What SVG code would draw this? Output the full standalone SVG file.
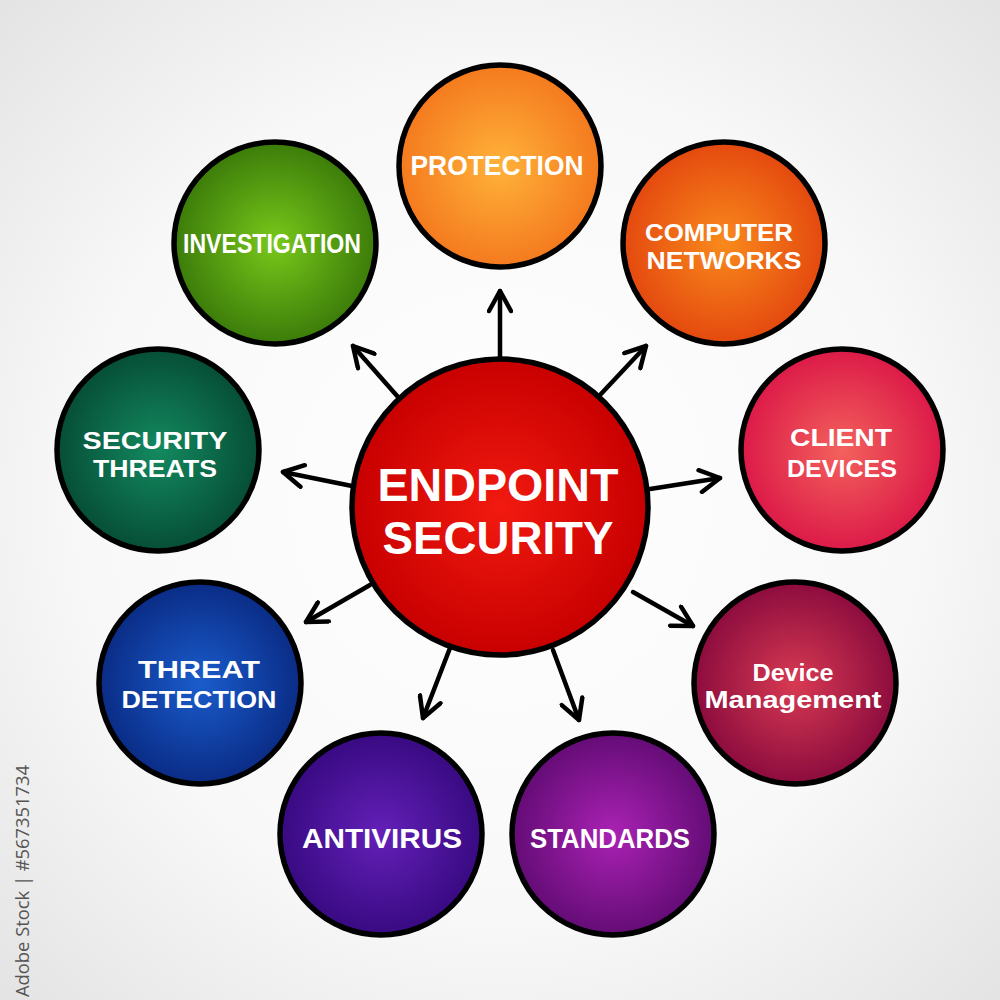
<svg xmlns="http://www.w3.org/2000/svg" width="1000" height="1000" viewBox="0 0 1000 1000">
<defs>
<radialGradient id="bg" cx="50%" cy="50%" r="70%"><stop offset="0" stop-color="#ffffff"/><stop offset="0.6" stop-color="#f8f8f8"/><stop offset="1" stop-color="#e4e4e4"/></radialGradient>
<radialGradient id="gC"><stop offset="0" stop-color="#f21a10"/><stop offset="1" stop-color="#c80000"/></radialGradient>
<radialGradient id="g1"><stop offset="0" stop-color="#ffb23a"/><stop offset="1" stop-color="#f47a1e"/></radialGradient>
<radialGradient id="g2"><stop offset="0" stop-color="#f98a1c"/><stop offset="1" stop-color="#e4490f"/></radialGradient>
<radialGradient id="g3"><stop offset="0" stop-color="#f3625c"/><stop offset="1" stop-color="#dc1a48"/></radialGradient>
<radialGradient id="g4"><stop offset="0" stop-color="#d83a52"/><stop offset="1" stop-color="#8c0c3e"/></radialGradient>
<radialGradient id="g5"><stop offset="0" stop-color="#aa22b4"/><stop offset="1" stop-color="#640c76"/></radialGradient>
<radialGradient id="g6"><stop offset="0" stop-color="#6420b8"/><stop offset="1" stop-color="#380a82"/></radialGradient>
<radialGradient id="g7"><stop offset="0" stop-color="#1a5ccc"/><stop offset="1" stop-color="#0a2c86"/></radialGradient>
<radialGradient id="g8"><stop offset="0" stop-color="#138a60"/><stop offset="1" stop-color="#064e36"/></radialGradient>
<radialGradient id="g9"><stop offset="0" stop-color="#78c81a"/><stop offset="1" stop-color="#3c7c0a"/></radialGradient>
<marker id="ah" viewBox="0 0 26 26" refX="23" refY="13" markerWidth="26" markerHeight="26" markerUnits="userSpaceOnUse" orient="auto">
<path d="M3,2 L23,13 L3,24" fill="none" stroke="#000" stroke-width="4.5" stroke-linecap="round" stroke-linejoin="round"/>
</marker>
<style>
.c{stroke:#000;stroke-width:5.5}
.t{font-family:"Liberation Sans",Arial,sans-serif;font-weight:bold;fill:#fff;text-anchor:middle;font-size:28px}
.t2{font-size:24px}
.tc{font-size:46px}
.a{stroke:#000;stroke-width:4.5;fill:none;stroke-linecap:round;marker-end:url(#ah)}
.s{font-family:"Open Sans","Noto Sans",sans-serif;font-size:18px;fill:#555}
</style>
</defs>
<rect width="1000" height="1000" fill="url(#bg)"/>
<g id="connectors">
<line class="a" x1="500" y1="358" x2="500" y2="291"/>
<line class="a" x1="600" y1="395" x2="646" y2="346"/>
<line class="a" x1="398" y1="397" x2="353" y2="346"/>
<line class="a" x1="352" y1="486" x2="283" y2="472"/>
<line class="a" x1="650" y1="489" x2="720" y2="478"/>
<line class="a" x1="370" y1="585" x2="306" y2="622"/>
<line class="a" x1="633" y1="592" x2="693" y2="626"/>
<line class="a" x1="450" y1="648" x2="423" y2="718"/>
<line class="a" x1="553" y1="650" x2="579" y2="720"/>
</g>
<g id="center">
<circle class="c" cx="500" cy="507" r="148" fill="url(#gC)"/>
<text class="t tc" x="498" y="501" textLength="241" lengthAdjust="spacingAndGlyphs">ENDPOINT</text>
<text class="t tc" x="498" y="554" textLength="231" lengthAdjust="spacingAndGlyphs">SECURITY</text>
</g>
<g id="protection">
<circle class="c" cx="500" cy="166" r="101" fill="url(#g1)"/>
<text class="t" x="497" y="175" textLength="173" lengthAdjust="spacingAndGlyphs">PROTECTION</text>
</g>
<g id="computer-networks">
<circle class="c" cx="724" cy="243" r="101" fill="url(#g2)"/>
<text class="t t2" x="719" y="241" textLength="148" lengthAdjust="spacingAndGlyphs">COMPUTER</text>
<text class="t t2" x="724" y="269" textLength="155" lengthAdjust="spacingAndGlyphs">NETWORKS</text>
</g>
<g id="client-devices">
<circle class="c" cx="842" cy="450" r="101" fill="url(#g3)"/>
<text class="t t2" x="841" y="446" textLength="102" lengthAdjust="spacingAndGlyphs">CLIENT</text>
<text class="t t2" x="842" y="477" textLength="110" lengthAdjust="spacingAndGlyphs">DEVICES</text>
</g>
<g id="device-management">
<circle class="c" cx="795" cy="683" r="101" fill="url(#g4)"/>
<text class="t t2" x="793" y="681" textLength="81" lengthAdjust="spacingAndGlyphs">Device</text>
<text class="t t2" x="793" y="708" textLength="177" lengthAdjust="spacingAndGlyphs">Management</text>
</g>
<g id="standards">
<circle class="c" cx="613" cy="834" r="101" fill="url(#g5)"/>
<text class="t" x="610" y="848" textLength="160" lengthAdjust="spacingAndGlyphs">STANDARDS</text>
</g>
<g id="antivirus">
<circle class="c" cx="381" cy="834" r="101" fill="url(#g6)"/>
<text class="t" x="382" y="848" textLength="160" lengthAdjust="spacingAndGlyphs">ANTIVIRUS</text>
</g>
<g id="threat-detection">
<circle class="c" cx="200" cy="683" r="101" fill="url(#g7)"/>
<text class="t t2" x="199" y="678" textLength="122" lengthAdjust="spacingAndGlyphs">THREAT</text>
<text class="t t2" x="199" y="708" textLength="155" lengthAdjust="spacingAndGlyphs">DETECTION</text>
</g>
<g id="security-threats">
<circle class="c" cx="158" cy="450" r="101" fill="url(#g8)"/>
<text class="t t2" x="155" y="449" textLength="145" lengthAdjust="spacingAndGlyphs">SECURITY</text>
<text class="t t2" x="155" y="477" textLength="124" lengthAdjust="spacingAndGlyphs">THREATS</text>
</g>
<g id="investigation">
<circle class="c" cx="275" cy="243" r="101" fill="url(#g9)"/>
<text class="t" x="272" y="253" textLength="178" lengthAdjust="spacingAndGlyphs">INVESTIGATION</text>
</g>
<text class="s" transform="translate(29,997) rotate(-90)" textLength="232" lengthAdjust="spacingAndGlyphs">Adobe Stock | #567351734</text>
</svg>
